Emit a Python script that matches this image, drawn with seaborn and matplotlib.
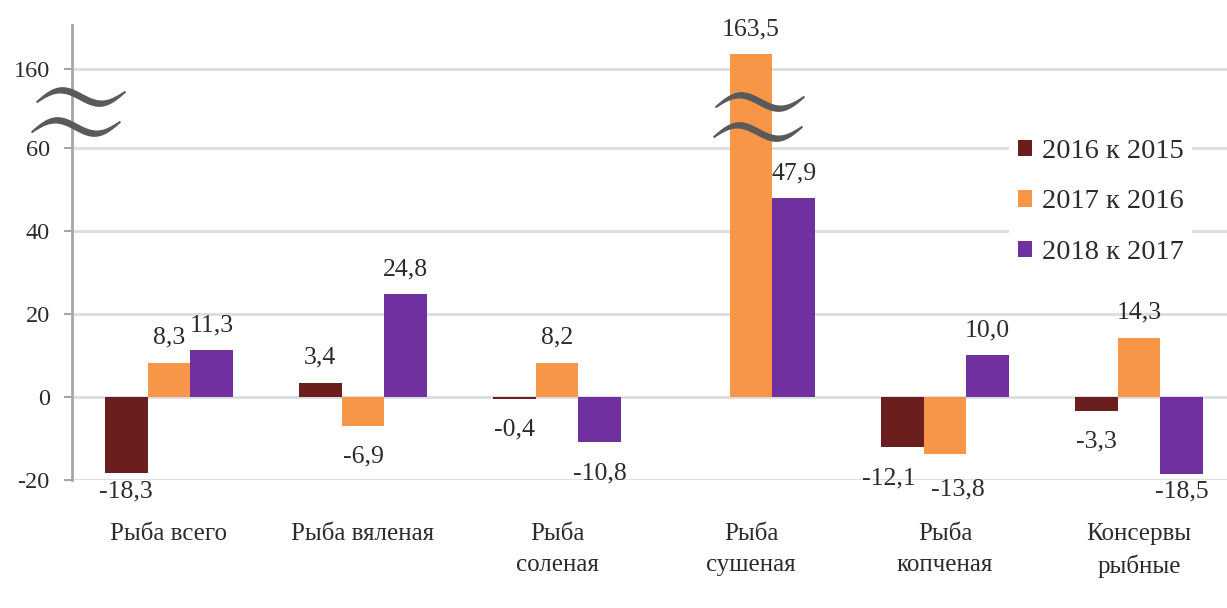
import numpy as np
import pandas as pd
import matplotlib
matplotlib.use('Agg')
import matplotlib.pyplot as plt
import seaborn as sns
from matplotlib.patches import Patch

# данные с графика
categories = ['Рыба всего', 'Рыба вяленая', 'Рыба\nсоленая', 'Рыба\nсушеная',
              'Рыба\nкопченая', 'Консервы\nрыбные']
series = ['2016 к 2015', '2017 к 2016', '2018 к 2017']
v2016 = [-18.3, 3.4, -0.4, None, -12.1, -3.3]
v2017 = [8.3, -6.9, 8.2, 163.5, -13.8, 14.3]
v2018 = [11.3, 24.8, -10.8, 47.9, 10.0, -18.5]
colors = ['#6b1e1e', '#f79646', '#7030a0']
yticks = [-20, 0, 20, 40, 60, 160]

rows = []
for s, vals in zip(series, [v2016, v2017, v2018]):
    for c, v in zip(categories, vals):
        rows.append({'cat': c, 'series': s, 'val': np.nan if v is None else v})
df = pd.DataFrame(rows)

sns.set_style('white')
plt.rcParams['font.family'] = ['Liberation Serif', 'DejaVu Serif']
txt = '#2b2b2b'
grid_c = '#d9dde2'

fig = plt.figure(figsize=(12.27, 6.08), dpi=100)
ax = fig.add_axes([72 / 1227, 1 - 480 / 608, (1227 - 72) / 1227, (480 - 25) / 608])

sns.barplot(data=df, x='cat', y='val', hue='series', palette=colors, order=categories,
            hue_order=series, width=0.66, saturation=1, errorbar=None, linewidth=0,
            legend=False, ax=ax, zorder=3)


# разрыв оси: 60..150 сжато
def fwd(v):
    v = np.asarray(v, dtype=float)
    return np.where(v <= 60, v, np.where(v <= 150, 60 + (v - 60) * 0.1, v - 81))


def inv(d):
    d = np.asarray(d, dtype=float)
    return np.where(d <= 60, d, np.where(d <= 69, 60 + (d - 60) / 0.1, d + 81))


ax.set_yscale('function', functions=(fwd, inv))
ax.set_ylim(-20, 170.6)
ax.set_xlim(-0.5, 5.454)
ax.set_yticks(yticks)
ax.set_yticklabels([str(t) for t in yticks])
ax.yaxis.grid(True, color=grid_c, linewidth=2, zorder=0)
ax.set_axisbelow(True)
ax.set_xlabel('')
ax.set_ylabel('')

for sp in ['top', 'right', 'bottom']:
    ax.spines[sp].set_visible(False)
ax.spines['left'].set_color('#a6a6a6')
ax.spines['left'].set_linewidth(2)
ax.tick_params(axis='y', left=True, length=6, width=1.5, color='#a6a6a6',
               pad=10, labelsize=17.5, labelcolor=txt)
ax.tick_params(axis='x', length=0, pad=31, labelsize=18, labelcolor=txt)
for t in ax.get_xticklabels():
    t.set_linespacing(1.5)

# подписи значений (сдвиг для соседних подписей, в пунктах)
nudge = {(0, 4): (-10, 0), (1, 4): (9, -3)}
w = 0.22
for j, vals in enumerate([v2016, v2017, v2018]):
    for i, v in enumerate(vals):
        if v is None:
            continue
        x = i + (j - 1) * w
        if v >= 0:
            off = 18
        elif v < -15:
            off = -13
        else:
            off = -22.5
        dx, dy = nudge.get((j, i), (0, 0))
        ax.annotate(f'{v:.1f}'.replace('.', ','), (x, v), xytext=(dx, off + dy),
                    textcoords='offset points', ha='center', va='center',
                    fontsize=18.5, color=txt, zorder=5)


# значки разрыва
def wave(cx, cy, half=44, amp=9, tilt=5):
    t = np.linspace(-1, 1, 60)
    xs = cx + half * t
    ys = cy + amp * np.sin(np.pi * t) - tilt * t
    th = 2.6 * (1 - t ** 2) + 0.4
    xf = np.concatenate([xs, xs[::-1]]) / 1227
    yf = 1 - np.concatenate([ys - th, (ys + th)[::-1]]) / 608
    fig.patches.append(plt.Polygon(np.column_stack([xf, yf]), closed=True,
                                   transform=fig.transFigure, color='#5a5a5a',
                                   zorder=10))


wave(81, 97)
wave(76, 127)
wave(760, 102)
wave(758, 132)

handles = [Patch(facecolor=c, edgecolor='none') for c in colors]
leg = ax.legend(handles, series, loc='center left',
                bbox_to_anchor=(995 / 1227, 1 - 202 / 608), bbox_transform=fig.transFigure,
                frameon=True, facecolor='white', edgecolor='none', framealpha=1,
                fontsize=20.5, handlelength=0.5, handleheight=0.5, handletextpad=0.35,
                labelspacing=0.9, borderpad=0.3)
for t in leg.get_texts():
    t.set_color(txt)
leg.set_zorder(6)

fig.savefig('out.png', dpi=100, facecolor='white')
